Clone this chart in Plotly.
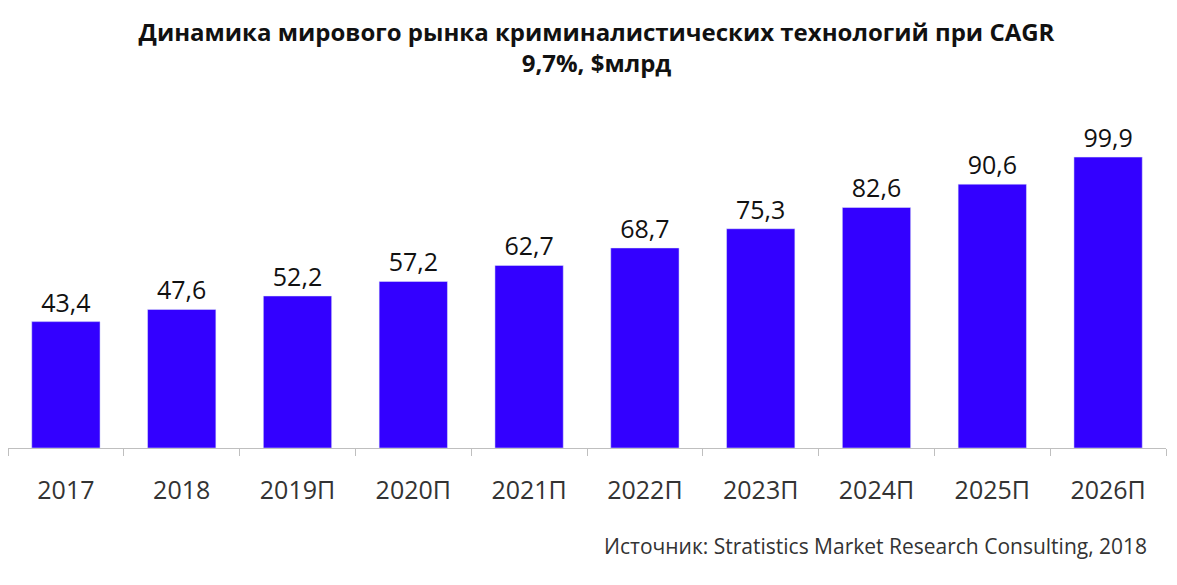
import plotly.graph_objects as go

years = ["2017", "2018", "2019П", "2020П", "2021П", "2022П", "2023П", "2024П", "2025П", "2026П"]
values = [43.4, 47.6, 52.2, 57.2, 62.7, 68.7, 75.3, 82.6, 90.6, 99.9]
labels = ["43,4", "47,6", "52,2", "57,2", "62,7", "68,7", "75,3", "82,6", "90,6", "99,9"]

fig = go.Figure(
    go.Bar(
        x=years,
        y=values,
        text=labels,
        textposition="outside",
        textfont=dict(size=25, color="#111111", family="Open Sans"),
        marker_color="#3300ff",
        cliponaxis=False,
    )
)

# the page body adds 8px around the figure, so margins are shifted by that
fig.update_layout(
    width=1177,
    height=585,
    paper_bgcolor="white",
    plot_bgcolor="white",
    showlegend=False,
    bargap=0.41,
    margin=dict(l=0, r=19, t=92, b=145),
    title=dict(
        text="<b>Динамика мирового рынка криминалистических технологий при CAGR<br>9,7%, $млрд</b>",
        x=0.5,
        xanchor="center",
        y=0.944,
        yanchor="top",
        font=dict(size=24, color="#111111", family="Open Sans"),
    ),
    annotations=[
        dict(
            text="Источник: Stratistics Market Research Consulting, 2018",
            xref="paper", yref="paper",
            x=0.985, y=-0.282,
            xanchor="right", yanchor="middle",
            showarrow=False,
            font=dict(size=21, color="#333333", family="Open Sans"),
        )
    ],
)

fig.update_xaxes(
    showline=True,
    linecolor="#bfbfbf",
    linewidth=1,
    ticks="outside",
    tickson="boundaries",
    ticklen=7,
    tickcolor="#bfbfbf",
    tickfont=dict(size=25, color="#333333", family="Open Sans"),
    ticklabelstandoff=20,
)
fig.update_yaxes(range=[0, 119.5], visible=False, showgrid=False)

fig.write_html("out.html")
